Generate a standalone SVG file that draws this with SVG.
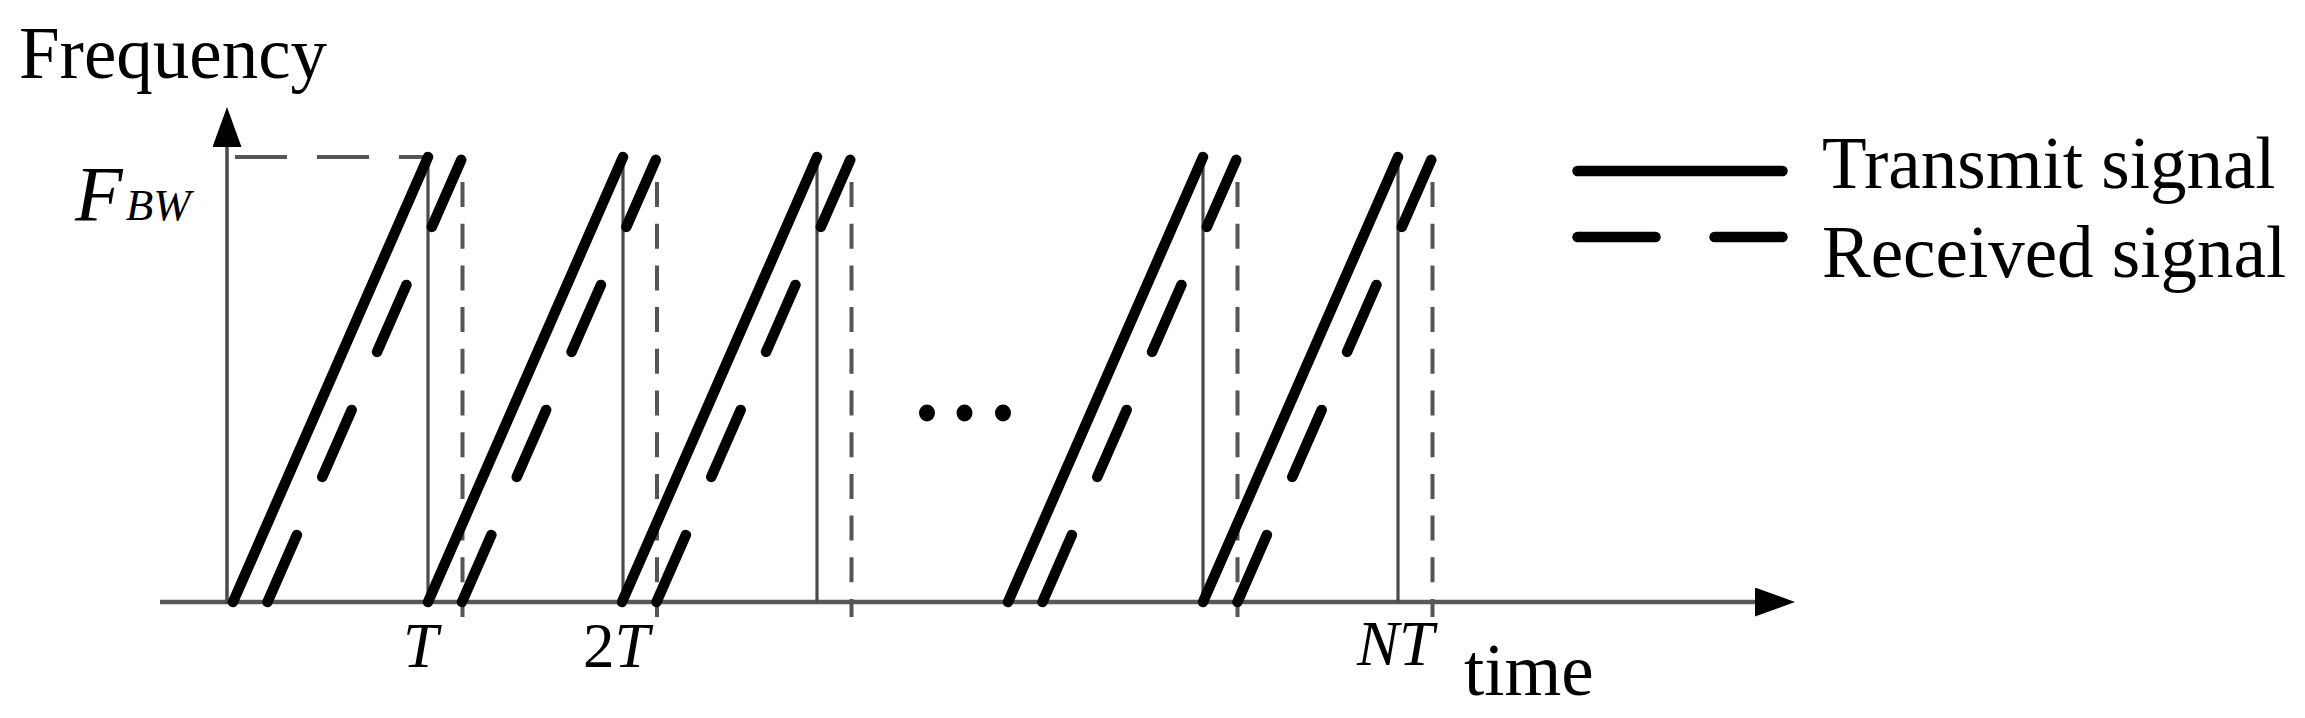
<svg xmlns="http://www.w3.org/2000/svg" width="2305" height="718" viewBox="0 0 2305 718">
<defs>
<style>
.txt{font-family:"Liberation Serif","Times New Roman",serif;fill:#000}
.it{font-style:italic}
.axis{stroke:#585858;stroke-width:4.5;fill:none}
.yax{stroke:#4a4a4a;stroke-width:3.5;fill:none}
.vsolid{stroke:#4a4a4a;stroke-width:3.2;fill:none}
.vdash{stroke:#555;stroke-width:4;fill:none;stroke-dasharray:25 16.7}
.fbw{stroke:#555;stroke-width:4;fill:none;stroke-dasharray:52 30}
.tx{stroke:#000;stroke-width:10.5;stroke-linecap:round;fill:none}
.rx{stroke:#000;stroke-width:10.5;stroke-linecap:round;fill:none;stroke-dasharray:73.2 63.3}
</style>
<marker id="arrow" markerUnits="userSpaceOnUse" markerWidth="42" markerHeight="30" refX="0" refY="14.5" orient="auto" viewBox="0 0 42 30">
<path d="M0,0 L40,14.5 L0,29 Z" fill="#000"/>
</marker>
</defs>
<rect width="2305" height="718" fill="#fff"/>

<g id="axes">
<line class="axis" x1="160" y1="602" x2="1755" y2="602" marker-end="url(#arrow)"/>
<line class="yax" x1="227" y1="604" x2="227" y2="147" marker-end="url(#arrow)"/>
<line class="fbw" x1="235" y1="157" x2="425" y2="157"/>
</g>

<g id="markers">
<line class="vsolid" x1="428" y1="165" x2="428" y2="603"/>
<line class="vdash" x1="462.5" y1="182" x2="462.5" y2="617"/>
<line class="vsolid" x1="623" y1="165" x2="623" y2="603"/>
<line class="vdash" x1="657" y1="182" x2="657" y2="617"/>
<line class="vsolid" x1="817" y1="165" x2="817" y2="603"/>
<line class="vdash" x1="851.5" y1="182" x2="851.5" y2="617"/>
<line class="vsolid" x1="1203" y1="165" x2="1203" y2="603"/>
<line class="vdash" x1="1237.5" y1="182" x2="1237.5" y2="617"/>
<line class="vsolid" x1="1398" y1="165" x2="1398" y2="603"/>
<line class="vdash" x1="1432.5" y1="182" x2="1432.5" y2="617"/>
</g>

<g id="transmit">
<path class="tx" d="M233,602 L428,157"/>
<path class="tx" d="M428,602 L623,157"/>
<path class="tx" d="M622,602 L817,157"/>
<path class="tx" d="M1008,602 L1203,157"/>
<path class="tx" d="M1203,602 L1398,157"/>
</g>

<g id="received">
<path class="rx" d="M267.5,602 L462.5,157"/>
<path class="rx" d="M462,602 L657,157"/>
<path class="rx" d="M656.5,602 L851.5,157"/>
<path class="rx" d="M1042.5,602 L1237.5,157"/>
<path class="rx" d="M1237.5,602 L1432.5,157"/>
</g>

<g id="ellipsis" fill="#000">
<ellipse cx="927" cy="413" rx="8" ry="8.5"/>
<ellipse cx="964.5" cy="413" rx="8" ry="8.5"/>
<ellipse cx="1003" cy="413" rx="8" ry="8.5"/>
</g>

<g id="labels">
<text class="txt" x="19" y="78" font-size="73">Frequency</text>
<text class="txt it" x="75" y="220" font-size="78">F<tspan dx="3" font-size="45">BW</tspan></text>
<text class="txt it" x="403" y="667" font-size="63">T</text>
<text class="txt" x="583" y="667" font-size="63">2<tspan class="it">T</tspan></text>
<text class="txt it" x="1357" y="665" font-size="63">NT</text>
<text class="txt" x="1464" y="695" font-size="73">time</text>
</g>

<g id="legend">
<line class="tx" x1="1577.5" y1="171" x2="1782.5" y2="171"/>
<path class="tx" d="M1577.5,237 H1655.5 M1714.5,237 H1782.5"/>
<text class="txt" x="1822" y="188" font-size="73">Transmit signal</text>
<text class="txt" x="1822" y="277" font-size="73">Received signal</text>
</g>
</svg>
